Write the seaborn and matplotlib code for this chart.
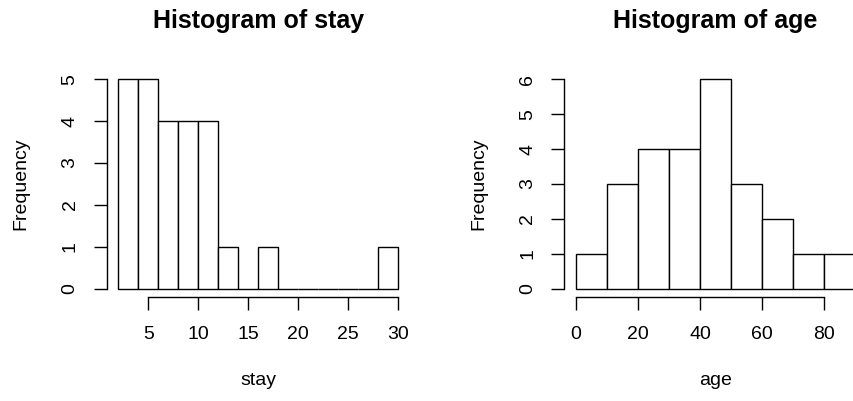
import numpy as np
import seaborn as sns
import matplotlib
matplotlib.use("Agg")
import matplotlib.pyplot as plt

# Bin edges and counts.
stay_edges = [2, 4, 6, 8, 10, 12, 14, 16, 18, 20, 22, 24, 26, 28, 30]
stay_counts = [5, 5, 4, 4, 4, 1, 0, 1, 0, 0, 0, 0, 0, 1]
stay_ticks = [5, 10, 15, 20, 25, 30]

age_edges = [0, 10, 20, 30, 40, 50, 60, 70, 80, 90]
age_counts = [1, 3, 4, 4, 6, 3, 2, 1, 1]
age_ticks = [0, 20, 40, 60, 80]

sns.set_style("ticks")
plt.rcParams['font.family'] = ['Liberation Sans', 'DejaVu Sans']
plt.rcParams['axes.linewidth'] = 1.0
plt.rcParams['text.color'] = 'black'
plt.rcParams['axes.labelcolor'] = 'black'
plt.rcParams['axes.edgecolor'] = 'black'

W, H = 854, 401
fig = plt.figure(figsize=(W / 100, H / 100), dpi=100)

# Axes boxes in pixels: (left, top, right, bottom)
boxes = [(107.1, 70.9, 409.5, 297.1), (564.5, 70.9, 866.6, 297.1)]

panels = [
    ("stay", stay_edges, stay_counts, stay_ticks),
    ("age", age_edges, age_counts, age_ticks),
]

for (name, edges, counts, ticks), (l, t, r, b) in zip(panels, boxes):
    ax = fig.add_axes([l / W, 1 - b / H, (r - l) / W, (b - t) / H])
    mids = [(edges[i] + edges[i + 1]) / 2 for i in range(len(counts))]
    sns.histplot(x=mids, weights=counts, bins=edges, ax=ax,
                 color="white", edgecolor="black", linewidth=1.0, alpha=1)

    # R style 4% padding on the axes range.
    xr = edges[-1] - edges[0]
    ax.set_xlim(edges[0] - 0.04 * xr, edges[-1] + 0.04 * xr)
    ymax = max(counts)
    ax.set_ylim(-0.04 * ymax, ymax * 1.04)

    ax.set_xticks(ticks)
    ax.set_yticks(range(0, ymax + 1))
    ax.spines["top"].set_visible(False)
    ax.spines["right"].set_visible(False)
    ax.spines["bottom"].set_bounds(ticks[0], ticks[-1])
    ax.spines["left"].set_bounds(0, ymax)
    ax.tick_params(length=9.5, width=1.0, labelsize=14, pad=11, colors="black")
    for lab in ax.get_yticklabels():
        lab.set_rotation(90)
        lab.set_va("center")

    ax.set_xlabel(name, fontsize=14, labelpad=21)
    ax.set_ylabel("Frequency", fontsize=14, labelpad=23)
    ax.set_title("Histogram of " + name, fontsize=18, fontweight="bold", pad=31)

fig.savefig("out.png", dpi=100)
